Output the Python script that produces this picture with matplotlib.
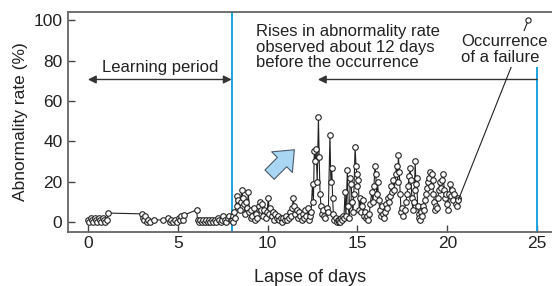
import matplotlib
matplotlib.use("Agg")
import matplotlib.pyplot as plt
from matplotlib.patches import FancyArrowPatch

plt.rcParams['font.family'] = ['Liberation Sans', 'DejaVu Sans']

# ---- data ----
learn_days = [0.0, 0.08, 0.15, 0.22, 0.3, 0.38, 0.45, 0.52, 0.6, 0.68, 0.75, 0.82, 0.9, 0.97, 1.05, 1.12,
              3.0, 3.05, 3.12, 3.2, 3.28, 3.36, 3.45, 3.7, 4.2, 4.45, 4.55, 4.65, 4.75, 4.85, 4.95,
              5.05, 5.12, 5.2, 5.28, 5.35, 6.05, 6.1, 6.18, 6.26, 6.34, 6.42, 6.5, 6.58, 6.66,
              6.74, 6.82, 6.9, 6.98, 7.06, 7.14, 7.22, 7.3, 7.38, 7.46, 7.54, 7.62, 7.7, 7.78, 7.86, 7.94]
learn_rate = [1, 0, 2, 1, 0, 2, 1, 0, 2, 1, 0, 2, 1, 0, 1, 4.4,
              4, 2, 1, 3, 0, 1, 0, 1, 1, 2, 0, 1, 0, 1, 0,
              2, 1, 3, 1, 3.4, 6, 1, 0, 1, 0, 1, 0, 1, 0,
              1, 0, 1, 0, 1, 0, 2, 1, 0, 1, 3, 1, 0, 2, 3, 1]

post_days = [8.0, 8.05, 8.1, 8.15, 8.2, 8.28, 8.32, 8.38, 8.45, 8.5, 8.56, 8.62, 8.68, 8.75, 8.8, 8.86,
             8.93, 8.98, 9.05, 9.1, 9.15, 9.22, 9.28, 9.35, 9.42, 9.5, 9.58, 9.62, 9.7, 9.75, 9.82,
             9.9, 9.97, 10.04, 10.1, 10.15, 10.22, 10.3, 10.36, 10.42, 10.5, 10.58, 10.65, 10.72,
             10.8, 10.88, 10.95, 11.02, 11.1, 11.18, 11.25, 11.32, 11.38, 11.43, 11.48, 11.55, 11.62,
             11.7, 11.76, 11.82, 11.9, 11.96, 12.02, 12.1, 12.16, 12.25, 12.3, 12.36, 12.42, 12.5,
             12.55, 12.6, 12.66, 12.7, 12.76, 12.83, 12.87, 12.92, 12.97, 13.02, 13.08, 13.15, 13.22,
             13.3, 13.38, 13.47, 13.52, 13.57, 13.62, 13.66, 13.72, 13.78, 13.85, 13.9, 13.95, 14.0,
             14.05, 14.1, 14.15, 14.2, 14.25, 14.31, 14.36, 14.44, 14.48, 14.55, 14.6, 14.65, 14.7,
             14.75, 14.8, 14.87, 14.92, 14.96, 15.0, 15.05, 15.1, 15.15, 15.2, 15.25, 15.33, 15.38,
             15.42, 15.48, 15.55, 15.61, 15.66, 15.72, 15.8, 15.86, 15.92, 15.98, 16.02, 16.07, 16.12,
             16.18, 16.25, 16.3, 16.35, 16.4, 16.46, 16.52, 16.58, 16.64, 16.7, 16.76, 16.81, 16.88,
             16.94, 17.0, 17.06, 17.12, 17.19, 17.24, 17.28, 17.33, 17.38, 17.43, 17.48, 17.55, 17.62,
             17.7, 17.76, 17.82, 17.88, 17.93, 17.98, 18.03, 18.08, 18.13, 18.18, 18.21, 18.26, 18.3,
             18.35, 18.4, 18.45, 18.49, 18.55, 18.6, 18.66, 18.72, 18.78, 18.84, 18.9, 18.95, 19.0,
             19.04, 19.08, 19.13, 19.18, 19.23, 19.28, 19.33, 19.38, 19.43, 19.48, 19.53, 19.6, 19.66,
             19.72, 19.78, 19.83, 19.88, 19.94, 20.0, 20.06, 20.11, 20.16, 20.22, 20.28, 20.33, 20.4,
             20.46, 20.53, 20.58, 20.62]
post_rate = [1, 3, 0, 5, 2, 13, 8, 11, 6, 10, 16, 12, 9, 4, 10, 7,
             15, 5, 2, 6, 3, 7, 1, 4, 2, 8, 10, 6, 9, 3, 6,
             2, 5, 12, 4, 7, 3, 5, 1, 4, 2, 3, 1, 2,
             0, 2, 1, 3, 1, 2, 5, 3, 7, 12, 8, 4, 6,
             2, 5, 3, 1, 4, 2, 6, 3, 7, 1, 3, 5, 19,
             10, 35, 30, 36, 20, 52, 32, 14, 8, 4, 6, 3, 2,
             7, 5, 43, 20, 27, 12, 4, 1, 2, 0, 1, 0, 1,
             0, 2, 1, 3, 2, 15, 3, 26, 8, 2, 22, 19, 10,
             5, 14, 37, 28, 24, 18, 21, 6, 12, 5, 8, 11, 3,
             5, 2, 3, 1, 4, 9, 15, 10, 18, 28, 24, 14, 20,
             11, 6, 3, 8, 4, 2, 5, 9, 7, 12, 10, 13, 18,
             15, 21, 16, 24, 28, 20, 33, 25, 14, 5, 7, 3, 6,
             10, 14, 18, 23, 27, 21, 12, 6, 10, 16, 30, 19, 22,
             8, 4, 2, 1, 5, 3, 8, 6, 11, 14, 17, 20, 22,
             25, 18, 24, 21, 14, 10, 6, 8, 7, 12, 16, 20, 17,
             21, 24, 16, 12, 14, 9, 6, 14, 19, 13, 16, 11, 14,
             9, 8, 12, 11]

days = learn_days + post_days
rate = learn_rate + post_rate

x_ticks = [0, 5, 10, 15, 20, 25]
y_ticks = [0, 20, 40, 60, 80, 100]
learning_end = 8
failure_day = 25

# ---- figure ----
W, H = 552, 286
fig = plt.figure(figsize=(W / 100, H / 100), dpi=100)
ax = fig.add_axes([68 / W, 1 - 232 / H, 1 - 68 / W, (232 - 12) / H])
ax.set_xlim(-1.11, 25.83)
ax.set_ylim(-5, 104.2)

ink = '#222222'
blue = '#1aa3e0'

ax.plot(days, rate, '-', color=ink, lw=0.8, marker='o', ms=4.0, mfc='white',
        mec=ink, mew=0.8, zorder=3)

ax.axvline(learning_end, color=blue, lw=1.4, zorder=2)
ax.plot([failure_day, failure_day], [-5, 76.2], color=blue, lw=1.4, zorder=2, clip_on=False)

for s in ['top', 'left', 'bottom']:
    ax.spines[s].set_color('#666666')
    ax.spines[s].set_linewidth(1.3)
ax.spines['right'].set_visible(False)

ax.set_xticks(x_ticks)
ax.set_yticks(y_ticks)
ax.tick_params(direction='in', length=5, width=1, color='#444444', labelsize=12.5,
               labelcolor='#222222')
ax.tick_params(axis='y', pad=4)
ax.tick_params(axis='x', pad=3)
ax.set_xlabel('Lapse of days', fontsize=13, color='#222222', labelpad=13)
ax.set_ylabel('Abnormality rate (%)', fontsize=12.5, color='#222222', labelpad=4)

# learning period arrow
ax.annotate('', xy=(0, 70.7), xytext=(learning_end, 70.7),
            arrowprops=dict(arrowstyle='<|-|>', color='#333333', lw=1.0,
                            shrinkA=0, shrinkB=0, mutation_scale=12))
ax.text(4.0, 76.8, 'Learning period', ha='center', va='center', fontsize=12, color='#222222')

# rises arrow
ax.annotate('', xy=(12.8, 70.7), xytext=(failure_day, 70.7),
            arrowprops=dict(arrowstyle='-|>', color='#333333', lw=1.0,
                            shrinkA=0, shrinkB=0, mutation_scale=12))
ax.text(9.35, 86.7, 'Rises in abnormality rate\nobserved about 12 days\nbefore the occurrence',
        ha='left', va='center', fontsize=12, color='#222222', linespacing=1.05)

# failure annotation
ax.text(20.77, 85.5, 'Occurrence\nof a failure', ha='left', va='center', fontsize=12,
        color='#222222', linespacing=1.08)
ax.plot([23.55, 20.62], [76.7, 11.0], color=ink, lw=0.8, zorder=4)
ax.plot([24.28, 24.45], [95.0, 98.8], color=ink, lw=0.8, zorder=4)
ax.plot([24.5], [100.0], 'o', ms=3.8, mfc='white', mec=ink, mew=0.8, zorder=5)

# light blue fat arrow
fat = FancyArrowPatch((10.0, 22.5), (11.6, 36.8),
                      arrowstyle='simple,head_width=2.0,head_length=1.2,tail_width=0.9',
                      mutation_scale=10.5, fc='#a9d6f2', ec='#4a5a6a', lw=0.8, zorder=4)
ax.add_patch(fat)

fig.savefig('out.png', dpi=100)
